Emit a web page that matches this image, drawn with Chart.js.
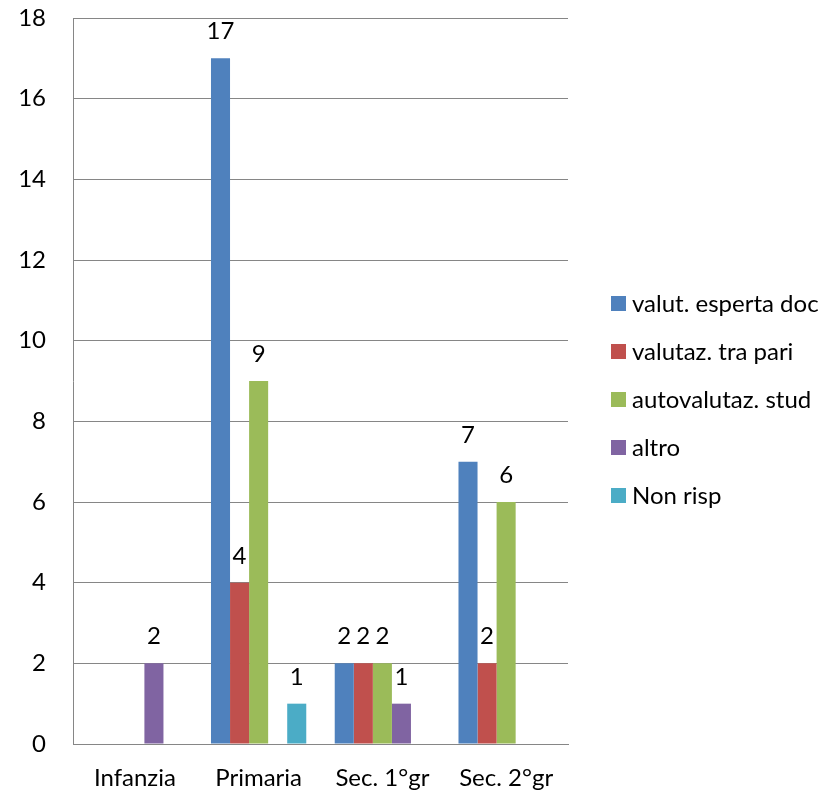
<!DOCTYPE html>
<html>
<head>
<meta charset="utf-8">
<script src="https://cdn.jsdelivr.net/npm/chart.js@4/dist/chart.umd.min.js"></script>
<style>
  html, body { margin: 0; padding: 0; background: #fff; }
  #wrap { width: 836px; height: 793px; }
</style>
</head>
<body>
<div id="wrap"><canvas id="chart" width="836" height="793"></canvas></div>
<script>
// data
var categories = ["Infanzia", "Primaria", "Sec. 1°gr", "Sec. 2°gr"];
var valutEspertaDoc = [0, 17, 2, 7];
var valutazTraPari = [0, 4, 2, 2];
var autovalutazStud = [0, 9, 2, 6];
var altro = [2, 0, 1, 0];
var nonRisp = [0, 1, 0, 0];
var yTicks = [0, 2, 4, 6, 8, 10, 12, 14, 16, 18];

var FONT = "Lato, 'Open Sans', sans-serif";
var FSIZE = 24;

// value labels above the bars (zeros are left out)
var valueLabels = {
  id: "valueLabels",
  afterDatasetsDraw: function(chart) {
    var ctx = chart.ctx;
    ctx.save();
    ctx.font = FSIZE + "px " + FONT;
    ctx.fillStyle = "#000";
    ctx.textAlign = "center";
    ctx.textBaseline = "alphabetic";
    chart.data.datasets.forEach(function(ds, di) {
      var meta = chart.getDatasetMeta(di);
      meta.data.forEach(function(bar, i) {
        if (!ds.data[i]) return;
        ctx.fillText(ds.data[i], bar.x, bar.y - 19);
      });
    });
    ctx.restore();
  }
};

// legend on the right side, squares + labels
var sideLegend = {
  id: "sideLegend",
  afterDraw: function(chart) {
    var ctx = chart.ctx;
    ctx.save();
    ctx.font = FSIZE + "px " + FONT;
    ctx.textBaseline = "middle";
    ctx.textAlign = "left";
    var x = 611, y = 303;
    chart.data.datasets.forEach(function(ds) {
      ctx.fillStyle = ds.backgroundColor;
      ctx.fillRect(x, y - 7, 15, 15);
      ctx.fillStyle = "#000";
      ctx.fillText(ds.label, x + 21, y + 1);
      y += 48;
    });
    ctx.restore();
  }
};

new Chart(document.getElementById("chart"), {
  type: "bar",
  data: {
    labels: categories,
    datasets: [
      { label: "valut. esperta doc", data: valutEspertaDoc, backgroundColor: "#4F81BD" },
      { label: "valutaz. tra pari", data: valutazTraPari, backgroundColor: "#C0504D" },
      { label: "autovalutaz. stud", data: autovalutazStud, backgroundColor: "#9BBB59" },
      { label: "altro", data: altro, backgroundColor: "#8064A2" },
      { label: "Non risp", data: nonRisp, backgroundColor: "#4BACC6" }
    ]
  },
  options: {
    responsive: false,
    animation: false,
    layout: { padding: { left: 0, right: 268, top: 18, bottom: 0 } },
    datasets: { bar: { categoryPercentage: 0.77, barPercentage: 1 } },
    plugins: {
      legend: { display: false },
      tooltip: { enabled: false }
    },
    scales: {
      x: {
        grid: { display: false, drawTicks: false },
        border: { display: true, color: "#868686", width: 1 },
        ticks: { color: "#000", font: { family: FONT, size: FSIZE }, padding: 20 },
        afterFit: function(axis) { axis.height = 49; }
      },
      y: {
        min: 0,
        max: 18,
        afterBuildTicks: function(axis) {
          axis.ticks = yTicks.map(function(v) { return { value: v }; });
        },
        grid: { color: "#868686", lineWidth: 1, drawTicks: true, tickLength: 27, tickColor: "rgba(0,0,0,0)" },
        border: { display: true, color: "#868686", width: 1 },
        ticks: { color: "#000", font: { family: FONT, size: FSIZE }, padding: 0 },
        afterFit: function(axis) { axis.width = 73; }
      }
    }
  },
  plugins: [valueLabels, sideLegend]
});
</script>
</body>
</html>
